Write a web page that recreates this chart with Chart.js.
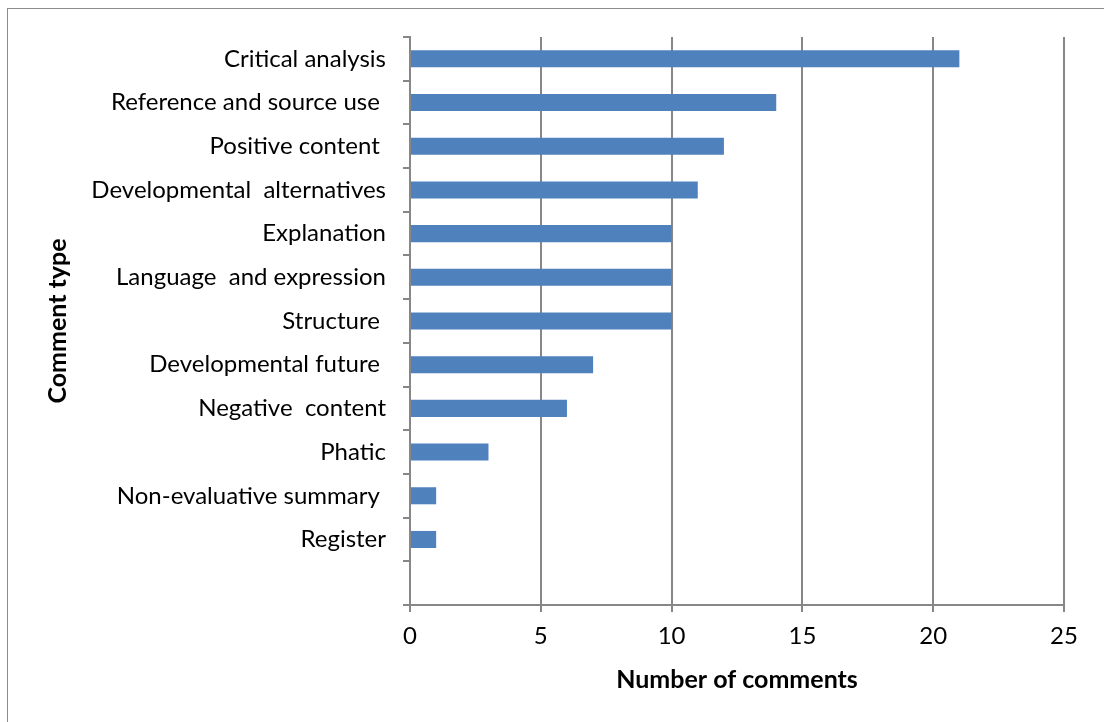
<!DOCTYPE html>
<html>
<head>
<meta charset="utf-8">
<script src="https://cdn.jsdelivr.net/npm/chart.js@4.4.0/dist/chart.umd.min.js"></script>
<style>
  body { margin:0; background:#fff; overflow:hidden; }
  #wrap { position:relative; width:1104px; height:722px; }
  #frame { position:absolute; left:7px; top:8px; width:1200px; height:800px; border:1px solid #8c8c8c; }
  #chart { position:absolute; left:0; top:0; }
</style>
</head>
<body>
<div id="wrap">
  <div id="frame"></div>
  <canvas id="chart" width="1104" height="722"></canvas>
</div>
<script>
// comment types, top to bottom (last slot is empty in the original)
var commentTypes = [
  'Critical analysis',
  'Reference and source use ',
  'Positive content ',
  'Developmental  alternatives',
  'Explanation',
  'Language  and expression',
  'Structure ',
  'Developmental future ',
  'Negative  content',
  'Phatic',
  'Non-evaluative summary ',
  'Register',
  ''
]
var commentCounts = [21, 14, 12, 11, 10, 10, 10, 7, 6, 3, 1, 1, null]
var countTicks = [0, 5, 10, 15, 20, 25]

var fontFamily = "Lato, 'Open Sans', sans-serif"
var gridGray = '#878787'

var ctx = document.getElementById('chart').getContext('2d')
var chart = new Chart(ctx, {
  type: 'bar',
  data: {
    labels: commentTypes,
    datasets: [{
      data: commentCounts,
      backgroundColor: '#4f81bd',
      barPercentage: 0.39,
      categoryPercentage: 1
    }]
  },
  options: {
    indexAxis: 'y',
    responsive: false,
    animation: false,
    layout: { padding: { left: 0, right: 40, top: 37, bottom: 10 } },
    plugins: { legend: { display: false }, tooltip: { enabled: false } },
    scales: {
      x: {
        min: countTicks[0],
        max: countTicks[countTicks.length - 1],
        afterBuildTicks: function(scale) {
          scale.ticks = countTicks.map(function(v){ return { value: v } })
        },
        afterFit: function(scale) { scale.height = 722 - 605 - 10 },
        grid: { color: gridGray, lineWidth: 2, tickLength: 7, drawTicks: true },
        border: { display: true, color: gridGray, width: 2 },
        ticks: { color: '#000', font: { family: fontFamily, size: 24 }, padding: 10 },
        title: {
          display: true,
          text: 'Number of comments',
          color: '#000',
          font: { family: fontFamily, size: 25, weight: 'bold' },
          padding: { top: 0, bottom: 17 }
        }
      },
      y: {
        afterFit: function(scale) { scale.width = 410 },
        grid: { offset: true, drawOnChartArea: false, color: gridGray, lineWidth: 2, tickLength: 7 },
        border: { display: true, color: gridGray, width: 2 },
        ticks: { color: '#000', font: { family: fontFamily, size: 24 }, padding: 17, autoSkip: false },
        title: {
          display: true,
          text: 'Comment type',
          color: '#000',
          font: { family: fontFamily, size: 25, weight: 'bold' },
          padding: { top: 43, bottom: 0 }
        }
      }
    }
  }
})
</script>
</body>
</html>
